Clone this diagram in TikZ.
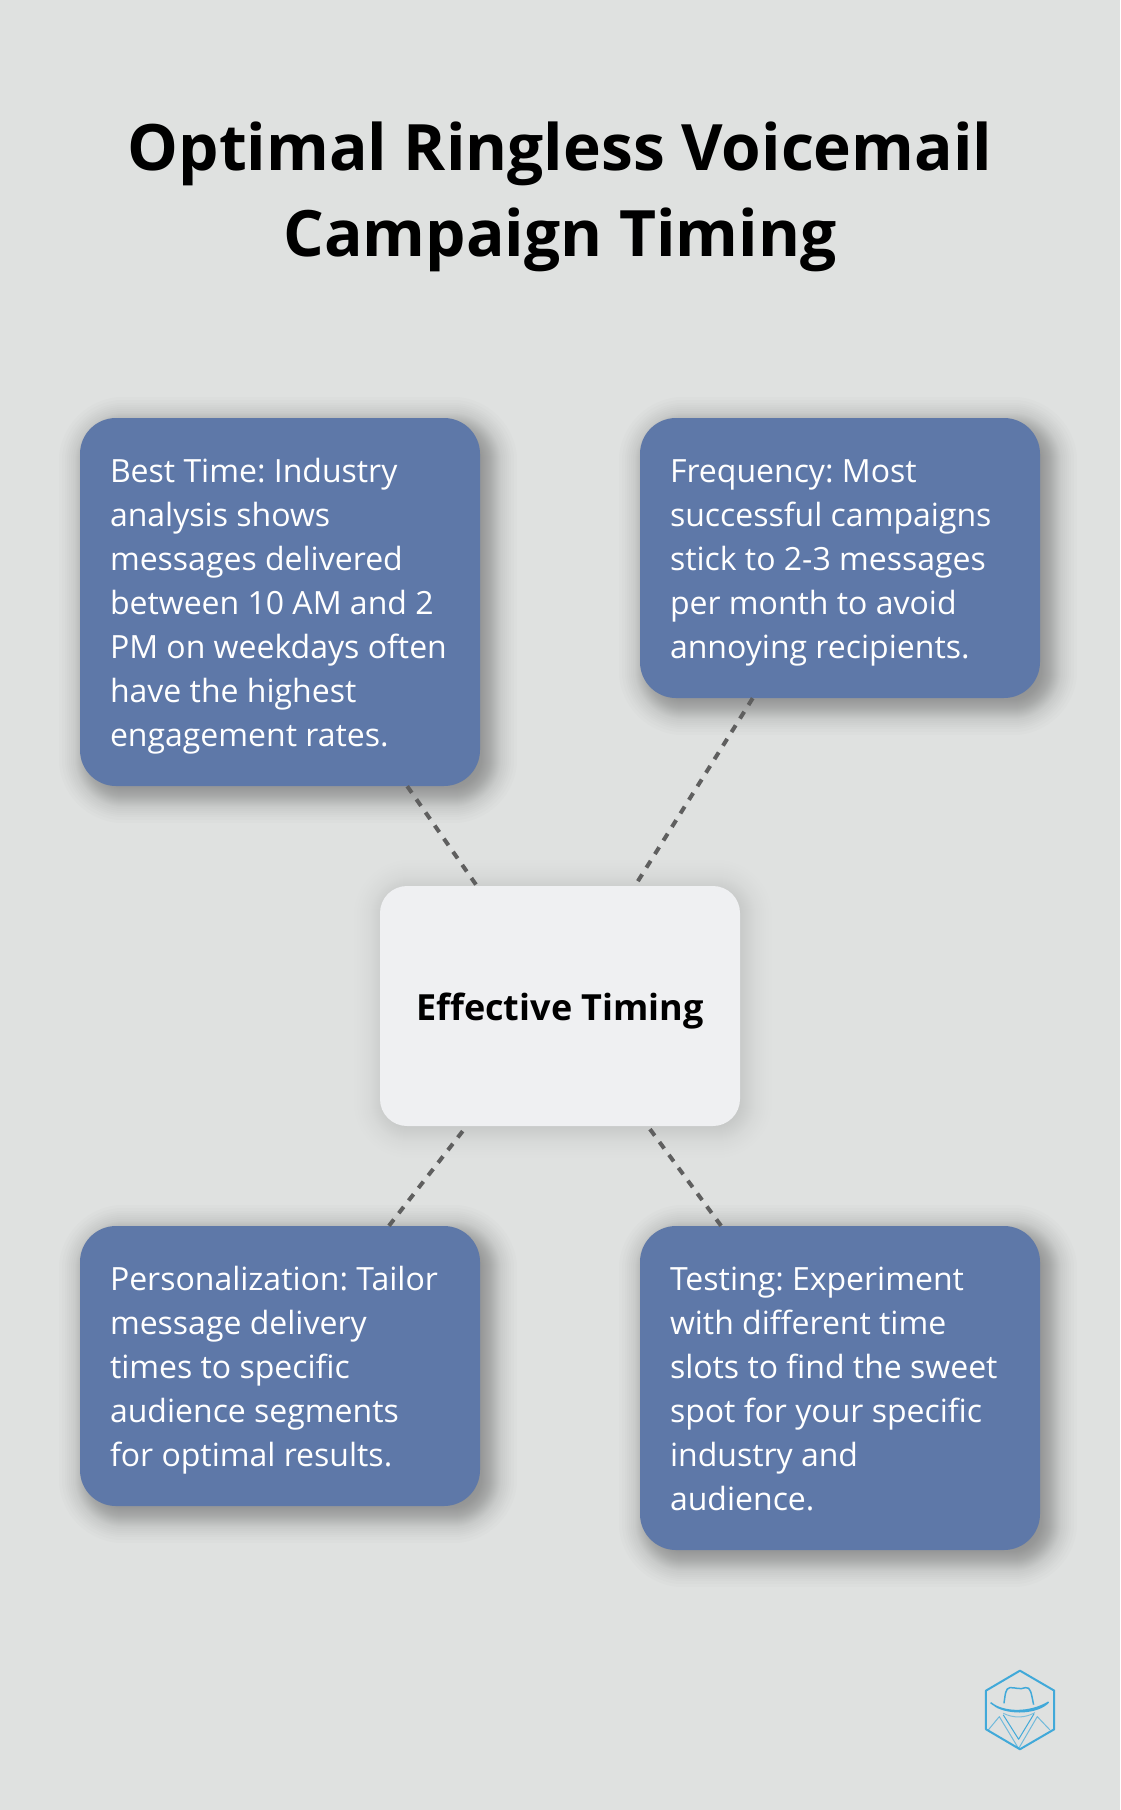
\documentclass[tikz,border=0pt]{standalone}
\usepackage{fontspec}
\usepackage{xcolor}
\setmainfont{Open Sans}
\usetikzlibrary{backgrounds}
\definecolor{pagegray}{HTML}{DFE1E0}
\definecolor{boxblue}{HTML}{5E78A8}
\definecolor{centerwhite}{HTML}{EFF0F2}
\definecolor{linkgray}{HTML}{5F5F5F}
\definecolor{logoblue}{HTML}{41A9D9}
\newcommand{\linestrut}{\rule[-9.6pt]{0pt}{44pt}}
\newcommand{\shadowsteps}{-10,-8,-6,-5,-4,-3,-2,-1,0,1,2,3,4,5,6,7,8,9,10,11,12,13,15,17,19,21,23,26,29}
% node, offset, corner radius, opacity
\newcommand{\softshadow}[4]{%
    \foreach \g [evaluate=\g as \r using #3+\g] in \shadowsteps
        {\fill[black,opacity=#4,rounded corners=\r pt]
            ([shift={(#2-\g,#2-\g)}]#1.north west) rectangle ([shift={(#2+\g,#2+\g)}]#1.south east);}}
\begin{document}
\begin{tikzpicture}[x=1pt,y=-1pt]
        \tikzset{tipbox/.style={rounded corners=36pt,fill=boxblue,text=white,
                minimum width=400pt,inner xsep=30pt,inner ysep=0pt,text width=340pt,
                align=left,font=\fontsize{32}{44}\selectfont\frenchspacing,
                execute at begin node={\spaceskip=8.3pt\relax\hyphenpenalty=10000\relax\linestrut},
                execute at end node=\linestrut},
            hubbox/.style={rounded corners=27pt,fill=centerwhite,minimum width=360pt,
                minimum height=240pt,text height=36pt,text depth=8pt,
                font=\fontsize{36}{44}\selectfont\bfseries},
            link/.style={draw=linkgray,line width=4pt,dash pattern=on 8pt off 8pt},
            logo/.style={draw=logoblue,line width=1pt,line join=round}}
        \useasboundingbox (0,0) rectangle (1120,1810);
        \node[align=center,font=\fontsize{64}{86}\selectfont\bfseries] (title) at (560,197)
            {Optimal Ringless Voicemail\\Campaign Timing};
        \node[tipbox,minimum height=368pt] (besttime) at (280,602)
            {Best Time: Industry\\analysis shows\\messages delivered\\between 10 AM and 2\\PM on weekdays often\\have the highest\\engagement rates.};
        \node[tipbox,minimum height=280pt] (frequency) at (840,558)
            {Frequency: Most\\successful campaigns\\stick to 2-3 messages\\per month to avoid\\annoying recipients.};
        \node[hubbox] (timing) at (560,1006) {Effective Timing};
        \node[tipbox,minimum height=280pt] (personal) at (280,1366)
            {Personalization: Tailor\\message delivery\\times to specific\\audience segments\\for optimal results.};
        \node[tipbox,minimum height=324pt] (testing) at (840,1388)
            {Testing: Experiment\\with different time\\slots to find the sweet\\spot for your specific\\industry and\\audience.};
        \begin{pgfonlayer}{background}
            \fill[pagegray] (0,0) rectangle (1120,1810);
            \softshadow{timing}{3}{27}{.005}
            \foreach \tip in {besttime,frequency,personal,testing}
                {\softshadow{\tip}{8}{36}{.01}}
        \end{pgfonlayer}
        \foreach \tip in {besttime,frequency,personal,testing}
            \draw[link] (\tip) -- (timing);
        % logo, in the units of a 3x crop
        \begin{scope}[shift={(960,1650)},x=0.333pt,y=-0.333pt]
            \draw[logo,line width=2pt] (180,62) -- (283,122) -- (283,238) -- (180,298) -- (78,238) -- (78,122) -- cycle;
            \draw[logo,line width=1.5pt] (132,160) .. controls (136,135) and (136,114) .. (150,113)
                .. controls (165,112) and (180,120) .. (197,113)
                .. controls (212,110) and (214,130) .. (221,164);
            \draw[logo,line width=1.5pt] (92,158) .. controls (130,190) and (210,190) .. (265,157)
                .. controls (235,190) and (150,195) .. (105,168);
            \draw[logo,opacity=.6] (130,190) .. controls (160,205) and (195,205) .. (225,188);
            \draw[logo,opacity=.7] (85,240) -- (118,200) -- (176,296) -- (232,200) -- (270,240);
            \draw[logo] (130,195) -- (176,268) -- (222,192);
        \end{scope}
\end{tikzpicture}
\end{document}
